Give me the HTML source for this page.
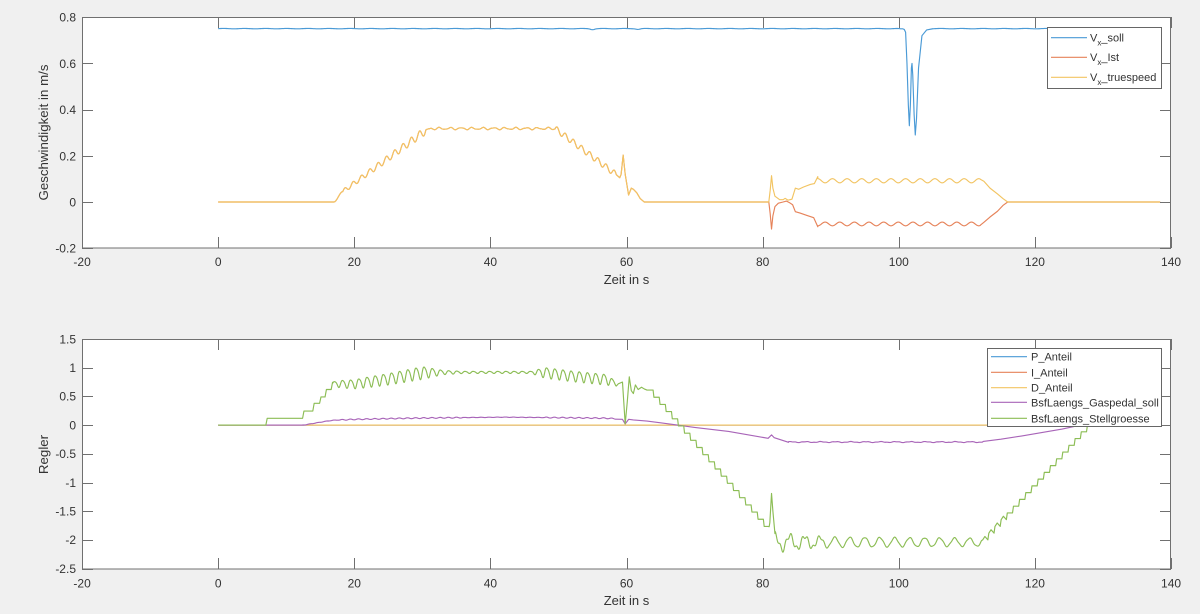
<!DOCTYPE html>
<html><head><meta charset="utf-8">
<style>
html,body{margin:0;padding:0;background:#f0f0f0;}
svg{display:block;font-family:"Liberation Sans",Arial,sans-serif;}
</style></head><body>
<svg id="c" width="1200" height="614" viewBox="0 0 1200 614" xmlns="http://www.w3.org/2000/svg">
<rect width="1200" height="614" fill="#f0f0f0"/>
<rect x="82" y="17" width="1089" height="231" fill="#fff"/>
<rect x="82" y="339" width="1089" height="230" fill="#fff"/>
<g id="d1"></g>
<g id="d2"></g>
<g id="ax" stroke="#707070" stroke-width="1" fill="none">
<rect x="82.5" y="17.5" width="1088" height="230.5"/>
<rect x="82.5" y="339.5" width="1088" height="229.5"/>
</g>
<g id="txt" fill="#333" font-size="12">
<g text-anchor="end">
<text x="76" y="21.5">0.8</text>
<text x="76" y="67.9">0.6</text>
<text x="76" y="114.1">0.4</text>
<text x="76" y="160.3">0.2</text>
<text x="76" y="206.3">0</text>
<text x="76" y="252.5">-0.2</text>
<text x="76" y="343.3">1.5</text>
<text x="76" y="372">1</text>
<text x="76" y="400.7">0.5</text>
<text x="76" y="429.4">0</text>
<text x="76" y="458.1">-0.5</text>
<text x="76" y="486.8">-1</text>
<text x="76" y="515.5">-1.5</text>
<text x="76" y="544.2">-2</text>
<text x="76" y="572.9">-2.5</text>
</g>
<g text-anchor="middle" id="xt"></g>
<text x="626.5" y="284" font-size="13" text-anchor="middle">Zeit in s</text>
<text x="626.5" y="605" font-size="13" text-anchor="middle">Zeit in s</text>
<text transform="translate(48,132.5) rotate(-90)" font-size="13.3" text-anchor="middle">Geschwindigkeit in m/s</text>
<text transform="translate(48,454.5) rotate(-90)" font-size="13.3" text-anchor="middle">Regler</text>
</g>
<g>
<rect x="1047.5" y="27.5" width="114" height="61" fill="#fff" stroke="#666" stroke-width="1"/>
<line x1="1051" y1="37.7" x2="1087" y2="37.7" stroke="#4a9ad6" stroke-width="1.2"/>
<line x1="1051" y1="57.3" x2="1087" y2="57.3" stroke="#e6835a" stroke-width="1.2"/>
<line x1="1051" y1="77.3" x2="1087" y2="77.3" stroke="#f2c462" stroke-width="1.2"/>
<g fill="#333" font-size="11">
<text x="1090" y="41.5">V<tspan font-size="8" dy="4">x</tspan><tspan dy="-4">_soll</tspan></text>
<text x="1090" y="61.1">V<tspan font-size="8" dy="4">x</tspan><tspan dy="-4">_Ist</tspan></text>
<text x="1090" y="81.1">V<tspan font-size="8" dy="4">x</tspan><tspan dy="-4">_truespeed</tspan></text>
</g>
</g>
<g>
<rect x="987.5" y="348.5" width="174" height="78" fill="#fff" stroke="#666" stroke-width="1"/>
<line x1="991" y1="356.7" x2="1027" y2="356.7" stroke="#4a9ad6" stroke-width="1.2"/>
<line x1="991" y1="372.3" x2="1027" y2="372.3" stroke="#e6835a" stroke-width="1.2"/>
<line x1="991" y1="387.7" x2="1027" y2="387.7" stroke="#f2c462" stroke-width="1.2"/>
<line x1="991" y1="402.3" x2="1027" y2="402.3" stroke="#a864b8" stroke-width="1.2"/>
<line x1="991" y1="418.3" x2="1027" y2="418.3" stroke="#8cbd55" stroke-width="1.2"/>
<g fill="#333" font-size="11">
<text x="1031" y="360.7">P_Anteil</text>
<text x="1031" y="376.3">I_Anteil</text>
<text x="1031" y="391.7">D_Anteil</text>
<text x="1031" y="406.3">BsfLaengs_Gaspedal_soll</text>
<text x="1031" y="422.3">BsfLaengs_Stellgroesse</text>
</g>
</g>
</svg>
<script>
(function(){
var NS='http://www.w3.org/2000/svg';
var X=function(t){return 218.2+t*6.806;};
var Y1=function(v){return 202-v*231;};
var Y2=function(v){return 425.1-v*57.4;};
function interp(kp,t){for(var i=1;i<kp.length;i++){if(t<=kp[i][0]){var a=kp[i-1],b=kp[i];var f=(t-a[0])/(b[0]-a[0]);return a[1]+(b[1]-a[1])*f;}}return kp[kp.length-1][1];}
function S(t,p,ph){return Math.sin(2*Math.PI*t/p+(ph||0));}
function sample(arr,t0,t1,f,dt){dt=dt||0.05;for(var t=t0;t<t1-1e-9;t+=dt)arr.push([t,f(t)]);}
function pushAll(arr,kp){kp.forEach(function(p){arr.push(p);});}
function path(arr,Y){return arr.map(function(p,i){return (i?'L':'M')+X(p[0]).toFixed(2)+' '+Y(p[1]).toFixed(2);}).join('');}
function add(g,color,d){var e=document.createElementNS(NS,'path');e.setAttribute('d',d);e.setAttribute('stroke',color);e.setAttribute('fill','none');e.setAttribute('stroke-width','1.15');e.setAttribute('stroke-linejoin','round');document.getElementById(g).appendChild(e);}
var BL='#4a9ad6',OR='#e6835a',YE='#f2c462',PU='#a864b8',GR='#8cbd55';

var ax=document.getElementById('ax');
function ln(x1,y1,x2,y2){var e=document.createElementNS(NS,'line');e.setAttribute('x1',x1);e.setAttribute('y1',y1);e.setAttribute('x2',x2);e.setAttribute('y2',y2);ax.appendChild(e);}
var xt=document.getElementById('xt');
for(var t=-20;t<=140;t+=20){var x=Math.round(X(t))+0.5;
 ln(x,17,x,28);ln(x,248,x,237);ln(x,339,x,350);ln(x,569,x,558);
 var a=document.createElementNS(NS,'text');a.setAttribute('x',X(t));a.setAttribute('y',266);a.textContent=String(t);xt.appendChild(a);
 var b=document.createElementNS(NS,'text');b.setAttribute('x',X(t));b.setAttribute('y',587.6);b.textContent=String(t);xt.appendChild(b);}
for(var v=-0.2;v<=0.81;v+=0.2){var y=Math.round(Y1(v))+0.5;ln(82,y,93,y);ln(1171,y,1160,y);}
for(var v2=-2.5;v2<=1.51;v2+=0.5){var y2=Math.round(Y2(v2))+0.5;ln(82,y2,93,y2);ln(1171,y2,1160,y2);}

var b1=[];
sample(b1,0,100.8,function(t){return 0.7505-0.004*Math.exp(-Math.pow((t-55)/0.4,2))-0.003*Math.exp(-Math.pow((t-61.7)/0.4,2))-0.0015*Math.exp(-Math.pow((t-100.4)/0.4,2))+0.0008*S(t,3.1);},0.2);
pushAll(b1,[[100.8,0.747],[101.0,0.735],[101.2,0.6],[101.4,0.42],[101.55,0.33],[101.7,0.42],[101.85,0.58],[101.94,0.6],[102.05,0.55],[102.25,0.38],[102.42,0.29],[102.6,0.36],[102.9,0.58],[103.4,0.72],[104.1,0.745],[105,0.75]]);
sample(b1,105,138.4,function(t){return 0.7505+0.0008*S(t,3.1);},0.2);
b1.push([138.4,0.7505]);

function first(t){
 if(t<17) return 0;
 if(t<18.3){var u=(t-17)/1.3;return 0.045*u*u*(3-2*u);}
 if(t<30.5){var tr=0.045+(t-18.3)*(0.265/12.2);var a=0.009+0.009*(t-18.3)/12.2;return tr+a*S(t-18.3,1.22);}
 if(t<49.5){var e=Math.min(1,(t-30.5)/0.8);return 0.31+0.008*e+0.004*S(t-30.5,1.6)+0.0015*S(t,0.95,1);}
 if(t<58.5){var tr2=0.318-(t-49.5)*0.2/9;return tr2+0.013*S(t-49.5,1.2);}
 return interp([[58.5,0.118],[59.0,0.105],[59.2,0.12],[59.5,0.203],[59.8,0.12],[60.3,0.03],[60.7,0.06],[61.0,0.055],[61.5,0.04],[62.0,0.015],[62.6,0],[200,0]],t);
}
var ye=[],orr=[];
sample(ye,0,80.9,first,0.05);
sample(orr,0,80.9,first,0.05);
pushAll(ye,[[80.9,0],[81.1,0.05],[81.3,0.114],[81.5,0.06],[81.8,0.025],[82.5,0.01],[83.0,0.01],[83.3,0.016],[83.7,0.008],[84.3,0.012],[84.8,0.06],[85.3,0.055],[86,0.065],[87,0.076],[87.6,0.08],[88.1,0.11]]);
sample(ye,88.1,112,function(t){return 0.092+0.009*S(t-88.1,2.15,Math.PI/2);},0.05);
pushAll(ye,[[112,0.098],[112.5,0.09],[113.4,0.06],[114.5,0.035],[115.3,0.015],[116,0],[138.4,0]]);
pushAll(orr,[[80.9,0],[81.1,-0.05],[81.3,-0.117],[81.5,-0.06],[81.8,-0.02],[82.3,-0.005],[83.0,0.0],[83.5,0.004],[84.0,-0.004],[84.4,-0.012],[84.8,-0.042],[85.5,-0.048],[86.5,-0.058],[87.5,-0.068],[88.1,-0.107]]);
sample(orr,88.1,112,function(t){return -0.095-0.008*S(t-88.1,2.15,Math.PI/2);},0.05);
pushAll(orr,[[112,-0.1],[112.5,-0.088],[113.4,-0.065],[114.5,-0.04],[115.3,-0.015],[116,0],[138.4,0]]);
add('d1',BL,path(b1,Y1));
add('d1',OR,path(orr,Y1));
add('d1',YE,path(ye,Y1));

var flat=[[0,0],[138.4,0]];
add('d2',BL,path(flat,Y2));
add('d2',OR,path(flat,Y2));
add('d2',YE,path(flat,Y2));

var p=[[0,0],[12.4,0]];
var pk=[[12.4,0],[13,0.01],[14,0.03],[15,0.05],[16,0.07],[17,0.085],[20,0.1],[28,0.12],[35,0.13],[42,0.138],[50,0.13],[57,0.12],[58.5,0.11]];
sample(p,12.4,58.5,function(t){return interp(pk,t)+(((t>18&&t<36)||(t>48))?0.008:0.003)*S(t,1.2,0.5);},0.05);
pushAll(p,[[59.4,0.1],[59.8,0.02],[60.3,0.1],[61,0.09],[63,0.07],[65,0.04],[67.5,0],[70,-0.04],[75,-0.11],[80.8,-0.23],[81.3,-0.17],[81.7,-0.22],[83.8,-0.3]]);
sample(p,83.8,112.4,function(t){return -0.295+0.007*S(t,2.2)+0.003*S(t,0.9);},0.1);
pushAll(p,[[112.4,-0.285],[115,-0.245],[118,-0.19],[121,-0.13],[124,-0.07],[126.3,-0.01],[127.8,0.005]]);
add('d2',PU,path(p,Y2));

var g=[[0,0],[7.0,0],[7.2,0.118],[12.4,0.118],[12.6,0.245],[13.9,0.245],[14.1,0.38],[14.9,0.38],[15.1,0.49],[15.7,0.49],[15.9,0.62],[16.6,0.62],[16.8,0.745]];
var gm=[[16.8,0.72],[20,0.72],[25,0.81],[30,0.92],[48,0.92],[52,0.86],[57,0.8],[58.5,0.72]];
var ga=[[16.8,0.04],[18,0.07],[22,0.1],[30,0.12],[33,0.04],[36,0.02],[46,0.02],[48,0.1],[57,0.1],[58.5,0.04]];
sample(g,16.8,58.5,function(t){return interp(gm,t)+interp(ga,t)*(0.9*S(t,1.2)+0.15*S(t,0.6,1));},0.04);
pushAll(g,[[58.8,0.72],[59.4,0.75],[59.8,0.02],[60.1,0.4],[60.4,0.84],[60.7,0.6],[61.0,0.55],[61.3,0.7],[61.7,0.62],[62.2,0.66],[62.6,0.63],[63.0,0.61]]);
for(var k=0;;k++){var t0=63+0.9*k;if(t0>80.8)break;var L=0.61-0.125*k;g.push([t0+0.12,L]);g.push([Math.min(t0+0.9,80.8),L]);}
pushAll(g,[[80.95,-1.77],[81.05,-1.7],[81.3,-1.19],[81.5,-1.5],[81.8,-1.89]]);
sample(g,81.8,112.2,function(t){return -2.04+interp([[81.8,0.14],[88,0.09],[112,0.07]],t)*S(t-81.8,2.2,Math.PI/2)+interp([[81.8,0.05],[88,0.035],[90,0.008],[112,0.008]],t)*S(t,0.8);},0.05);
var s=2.0/17,dtt=(127.6-112.2)/17;
for(var k2=0;k2<=17;k2++){var t1=112.2+dtt*k2;var L2=-2.0+s*k2;g.push([t1+0.12,L2]);if(k2<4)g.push([t1+0.45,L2+0.06]);g.push([t1+dtt-0.02,L2]);}
add('d2',GR,path(g,Y2));
})();
</script>
</body></html>
